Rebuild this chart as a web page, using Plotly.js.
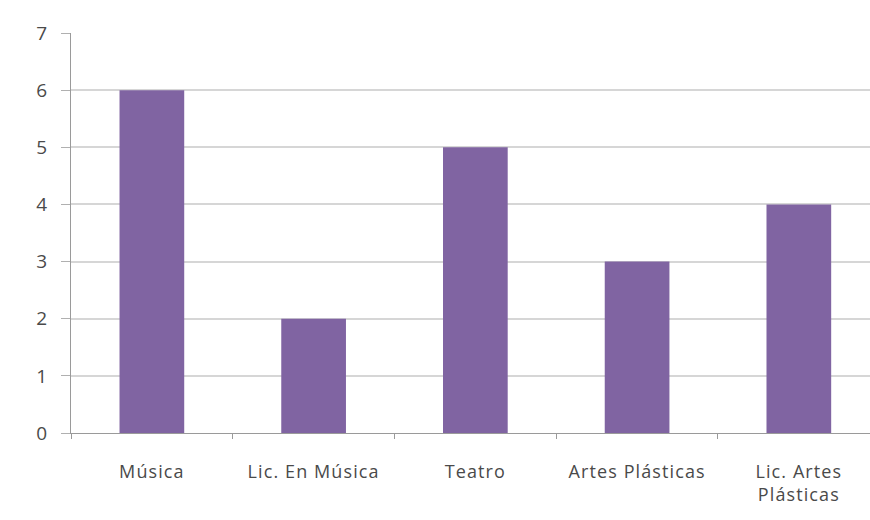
<!DOCTYPE html>
<html>
<head>
<meta charset="utf-8">
<script src="https://cdn.plot.ly/plotly-3.0.1.min.js"></script>
<style>
html,body{margin:0;padding:0;background:#fff;}
#chart{width:870px;height:520px;}
.xtick text{letter-spacing:1.1px;}
</style>
</head>
<body>
<div id="chart"></div>
<script>
var categories = ["Música", "Lic. En Música", "Teatro", "Artes Plásticas", "Lic. Artes<br>Plásticas"];
var values = [6, 2, 5, 3, 4];
var yTicks = [0, 1, 2, 3, 4, 5, 6, 7];

var trace = {
  type: "bar",
  x: categories,
  y: values,
  width: 0.4,
  marker: {color: "#8064A2", line: {width: 0}},
  hoverinfo: "x+y"
};

var layout = {
  width: 870, height: 520,
  margin: {l: 71, r: 0, t: 33, b: 87},
  paper_bgcolor: "#ffffff", plot_bgcolor: "#ffffff",
  font: {family: "Open Sans, Liberation Sans, sans-serif", size: 18, color: "#4a4a4a"},
  showlegend: false,
  bargap: 0.6,
  xaxis: {
    type: "category",
    range: [-0.5, 4.44],
    tickson: "boundaries",
    ticks: "outside", ticklen: 5, tickcolor: "#9a9a9a", tickwidth: 1,
    showgrid: false,
    showline: true, linecolor: "#9a9a9a", linewidth: 1,
    ticklabelstandoff: 22,
    tickfont: {size: 18, color: "#4a4a4a"},
    zeroline: false
  },
  yaxis: {
    range: [0, 7],
    tickvals: yTicks,
    ticktext: yTicks.map(String),
    ticks: "outside", ticklen: 9, tickcolor: "#b0b0b0", tickwidth: 1,
    showgrid: true, gridcolor: "#d6d6d6", gridwidth: 2,
    showline: true, linecolor: "#9a9a9a", linewidth: 1,
    zeroline: false,
    ticklabelstandoff: 10,
    tickfont: {size: 19, color: "#4a4a4a"}
  }
};

Plotly.newPlot("chart", [trace], layout, {displayModeBar: false, staticPlot: true});
</script>
</body>
</html>
